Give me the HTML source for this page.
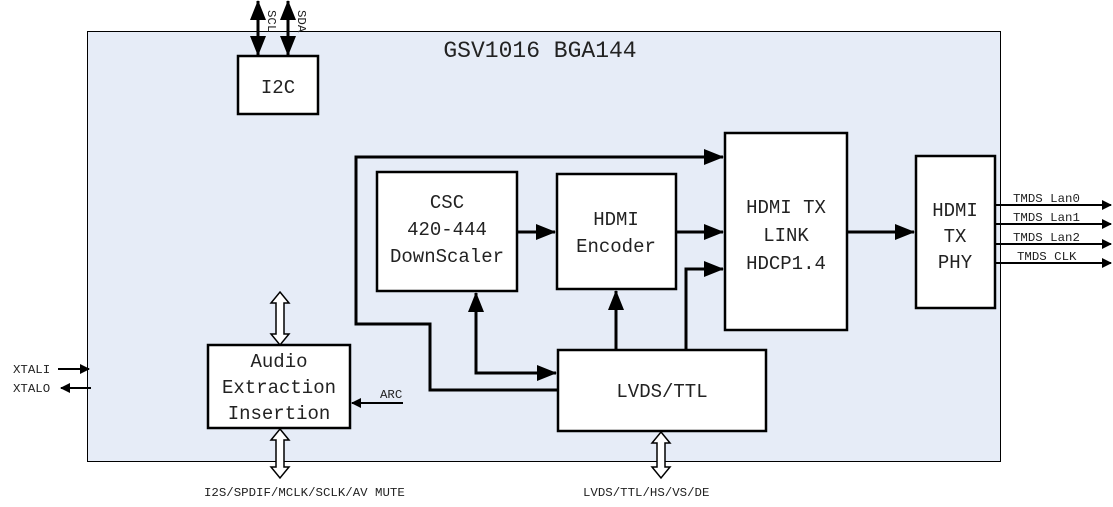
<!DOCTYPE html>
<html><head><meta charset="utf-8"><style>
html,body{margin:0;padding:0;background:#fff;width:1113px;height:507px;overflow:hidden}
svg text{font-family:"Liberation Mono",monospace;fill:#222}
</style></head><body>
<svg width="1113" height="507" viewBox="0 0 1113 507" xmlns="http://www.w3.org/2000/svg">
<defs>
<marker id="a" markerWidth="10" markerHeight="10" refX="9" refY="5" orient="auto-start-reverse" markerUnits="userSpaceOnUse"><path d="M0,0 L10,5 L0,10 Z" fill="#000"/></marker>
<marker id="b" markerWidth="20" markerHeight="16" refX="19" refY="8" orient="auto-start-reverse" markerUnits="userSpaceOnUse"><path d="M0,0 L20,8 L0,16 Z" fill="#000"/></marker>
</defs>
<rect x="87.5" y="31.5" width="913" height="430" fill="#e6ecf7" stroke="#000" stroke-width="1"/>
<text x="540" y="57" font-size="23" text-anchor="middle">GSV1016 BGA144</text>
<g fill="#fff" stroke="#000" stroke-width="2.5">
<rect x="238" y="56" width="80" height="58"/>
<rect x="377" y="172" width="140" height="119"/>
<rect x="557" y="174" width="119" height="115"/>
<rect x="725" y="133" width="122" height="197"/>
<rect x="916" y="156" width="79" height="152"/>
<rect x="558" y="350" width="208" height="81"/>
<rect x="208" y="345" width="142" height="83"/>
</g>
<g font-size="19" text-anchor="middle">
<text x="278" y="93">I2C</text>
<text x="447" y="208">CSC</text><text x="447" y="235">420-444</text><text x="447" y="262">DownScaler</text>
<text x="616" y="225">HDMI</text><text x="616" y="252">Encoder</text>
<text x="786" y="213">HDMI TX</text><text x="786" y="241">LINK</text><text x="786" y="269">HDCP1.4</text>
<text x="955" y="216">HDMI</text><text x="955" y="242">TX</text><text x="955" y="268">PHY</text>
<text x="662" y="397">LVDS/TTL</text>
<text x="279" y="367">Audio</text><text x="279" y="393">Extraction</text><text x="279" y="419">Insertion</text>
</g>
<g stroke="#000" stroke-width="3" fill="none">
<line x1="258" y1="1" x2="258" y2="55" marker-start="url(#b)" marker-end="url(#b)"/>
<line x1="288" y1="1" x2="288" y2="55" marker-start="url(#b)" marker-end="url(#b)"/>
<polyline points="558,390 430,390 430,324 356,324 356,157 723,157" marker-end="url(#b)"/>
<line x1="517" y1="232" x2="555" y2="232" marker-end="url(#b)"/>
<line x1="676" y1="232" x2="723" y2="232" marker-end="url(#b)"/>
<polyline points="686,350 686,269 723,269" marker-end="url(#b)"/>
<polyline points="556,373 476,373 476,293" marker-start="url(#b)" marker-end="url(#b)"/>
<line x1="616" y1="350" x2="616" y2="291" marker-end="url(#b)"/>
<line x1="847" y1="232" x2="914" y2="232" marker-end="url(#b)"/>
</g>
<g stroke="#000" stroke-width="2" fill="none">
<line x1="995" y1="205" x2="1111" y2="205" marker-end="url(#a)"/>
<line x1="995" y1="224" x2="1111" y2="224" marker-end="url(#a)"/>
<line x1="995" y1="244" x2="1111" y2="244" marker-end="url(#a)"/>
<line x1="995" y1="263" x2="1111" y2="263" marker-end="url(#a)"/>
<line x1="403" y1="403" x2="352" y2="403" marker-end="url(#a)"/>
<line x1="58" y1="369" x2="89" y2="369" marker-end="url(#a)"/>
<line x1="91" y1="388" x2="61" y2="388" marker-end="url(#a)"/>
</g>
<g font-size="12.4">
<text x="1013" y="202">TMDS Lan0</text>
<text x="1013" y="221">TMDS Lan1</text>
<text x="1013" y="241">TMDS Lan2</text>
<text x="1017" y="260">TMDS CLK</text>
<text x="380" y="398">ARC</text>
<text x="13" y="373">XTALI</text>
<text x="13" y="392">XTALO</text>
<text x="204" y="496">I2S/SPDIF/MCLK/SCLK/AV MUTE</text>
<text x="583" y="496">LVDS/TTL/HS/VS/DE</text>
<text transform="translate(268,10) rotate(90)">SCL</text>
<text transform="translate(298,10) rotate(90)">SDA</text>
</g>
<g fill="#fff" stroke="#000" stroke-width="1.5">
<path d="M280,292 L289,303 L284,303 L284,334 L289,334 L280,345 L271,334 L276,334 L276,303 L271,303 Z"/>
<path d="M280,429 L289,440 L284,440 L284,467 L289,467 L280,478 L271,467 L276,467 L276,440 L271,440 Z"/>
<path d="M661,432 L670,443 L665,443 L665,467 L670,467 L661,478 L652,467 L657,467 L657,443 L652,443 Z"/>
</g>
</svg>
</body></html>
